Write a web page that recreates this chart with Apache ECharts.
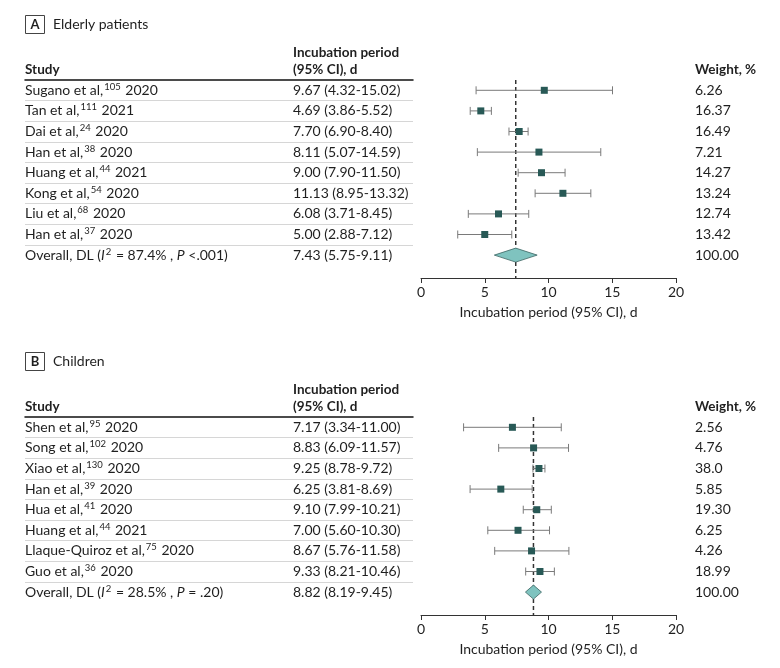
<!DOCTYPE html>
<html><head><meta charset="utf-8">
<script src="https://cdn.jsdelivr.net/npm/echarts@6/dist/echarts.min.js"></script>
<style>html,body{margin:0;padding:0;background:#fff}#c{width:780px;height:668px}</style>
</head><body><div id="c"></div>
<script>
// ---------- Panel A: Elderly patients ----------
const authorsA = ['Sugano et al','Tan et al','Dai et al','Han et al','Huang et al','Kong et al','Liu et al','Han et al'];
const refsA = ['105','111','24','38','44','54','68','37'];
const yearsA = ['2020','2021','2020','2020','2021','2020','2020','2020'];
const ciTextA = ['9.67 (4.32-15.02)','4.69 (3.86-5.52)','7.70 (6.90-8.40)','8.11 (5.07-14.59)','9.00 (7.90-11.50)','11.13 (8.95-13.32)','6.08 (3.71-8.45)','5.00 (2.88-7.12)','7.43 (5.75-9.11)'];
const weightsA = ['6.26','16.37','16.49','7.21','14.27','13.24','12.74','13.42','100.00'];
// plotted positions as drawn in the figure
const estA  = [9.67, 4.69, 7.70, 9.25, 9.45, 11.13, 6.08, 5.00];
const lowA  = [4.32, 3.86, 6.90, 4.42, 7.62, 8.95, 3.71, 2.88];
const highA = [15.02, 5.52, 8.40, 14.10, 11.30, 13.32, 8.45, 7.12];
const overallA = [7.43, 5.75, 9.11];      // estimate, low, high
const hetA = ['87.4%', '<.001'];

// ---------- Panel B: Children ----------
const authorsB = ['Shen et al','Song et al','Xiao et al','Han et al','Hua et al','Huang et al','Llaque-Quiroz et al','Guo et al'];
const refsB = ['95','102','130','39','41','44','75','36'];
const yearsB = ['2020','2020','2020','2020','2020','2021','2020','2020'];
const ciTextB = ['7.17 (3.34-11.00)','8.83 (6.09-11.57)','9.25 (8.78-9.72)','6.25 (3.81-8.69)','9.10 (7.99-10.21)','7.00 (5.60-10.30)','8.67 (5.76-11.58)','9.33 (8.21-10.46)','8.82 (8.19-9.45)'];
const weightsB = ['2.56','4.76','38.0','5.85','19.30','6.25','4.26','18.99','100.00'];
const estB  = [7.17, 8.83, 9.25, 6.26, 9.08, 7.61, 8.67, 9.33];
const lowB  = [3.34, 6.09, 8.78, 3.85, 8.02, 5.24, 5.78, 8.21];
const highB = [11.00, 11.57, 9.72, 8.72, 10.22, 10.08, 11.60, 10.46];
const overallB = [8.82, 8.19, 9.45];
const hetB = ['28.5%', '= .20'];

const xTicks = {min: 0, max: 20, interval: 5};
const axisTitle = 'Incubation period (95% CI), d';

// ---------- styling ----------
const FONT = 'Lato';
const FS = 14;
const TXT = '#1f1f1f';
const MARK = '#285956';
const CI = '#7a7a7a';
const DIAMOND = '#7fc3bf';
const ROW = 20.6;
const richStyles = {
  sup: {fontSize: 9.5, fontFamily: FONT, color: TXT, padding: [0, 1, 7, 1]},
  i: {fontSize: FS, fontFamily: FONT, color: TXT, fontStyle: 'italic'}
};

function studyLabels(authors, refs, years, het) {
  const out = authors.map((a, k) => a + ',{sup|' + refs[k] + '} ' + years[k]);
  out.push('Overall, DL ({i|I}{sup|2} = ' + het[0] + ' , {i|P} ' + het[1] + ')');
  return out;
}

function panel(idx, top, labels, ciText, weights, est, low, high, overall) {
  const tIdx = idx * 2, pIdx = idx * 2 + 1;
  const yBase = idx * 4;
  const n = labels.length;
  const plotH = 198;
  const yMax = -0.5 + plotH / ROW;
  const grids = [
    {left: 25, top: top, width: 388, height: n * ROW},
    {left: 421, top: top, width: 255, height: plotH}
  ];
  const xAxes = [
    {gridIndex: tIdx, type: 'value', position: 'top', min: 0, max: 1,
     axisLine: {show: true, onZero: false, lineStyle: {color: '#111', width: 1.5}},
     axisTick: {show: false}, axisLabel: {show: false}, splitLine: {show: false}},
    {gridIndex: pIdx, type: 'value', position: 'bottom', min: xTicks.min, max: xTicks.max, interval: xTicks.interval,
     axisLine: {show: true, onZero: false, lineStyle: {color: '#333', width: 1}},
     axisTick: {show: true, length: 5, lineStyle: {color: '#333'}},
     axisLabel: {fontSize: FS, fontFamily: FONT, color: TXT, margin: 7},
     splitLine: {show: false},
     name: axisTitle, nameLocation: 'middle', nameGap: 27,
     nameTextStyle: {fontSize: FS, fontFamily: FONT, color: TXT}}
  ];
  const lbl = () => ({interval: 0, fontSize: FS, fontFamily: FONT, color: TXT,
      align: 'left', margin: 0, rich: richStyles});
  const yAxes = [
    {gridIndex: tIdx, type: 'category', data: labels, inverse: true, position: 'left',
     axisLine: {show: false}, axisTick: {show: false}, axisLabel: lbl(),
     splitLine: {show: true, interval: 0, showMinLine: false, showMaxLine: false,
                 lineStyle: {color: '#d6d6d6', width: 1}}},
    {gridIndex: tIdx, type: 'category', data: ciText, inverse: true, position: 'left', offset: -268,
     axisLine: {show: false}, axisTick: {show: false}, axisLabel: lbl(), splitLine: {show: false}},
    {gridIndex: tIdx, type: 'category', data: weights, inverse: true, position: 'right', offset: 282,
     axisLine: {show: false}, axisTick: {show: false}, axisLabel: lbl(), splitLine: {show: false}},
    {gridIndex: pIdx, type: 'value', inverse: true, min: -0.5, max: yMax, show: false}
  ];
  const rows = est.map((e, k) => [e, low[k], high[k], k]);
  const series = [
    {type: 'line', xAxisIndex: pIdx, yAxisIndex: yBase + 3, z: 1, silent: true,
     symbol: 'none', data: [[overall[0], -0.5], [overall[0], yMax]],
     lineStyle: {color: '#333', width: 1.5, type: [4, 3]}},
    {type: 'custom', xAxisIndex: pIdx, yAxisIndex: yBase + 3, z: 3, silent: true, clip: false,
     data: rows,
     renderItem: function (params, api) {
       const y = api.value(3);
       const pE = api.coord([api.value(0), y]);
       const pL = api.coord([api.value(1), y]);
       const pH = api.coord([api.value(2), y]);
       const ls = {stroke: CI, lineWidth: 1};
       return {type: 'group', children: [
         {type: 'line', shape: {x1: pL[0], y1: pL[1], x2: pH[0], y2: pH[1]}, style: ls},
         {type: 'line', shape: {x1: pL[0], y1: pL[1] - 4, x2: pL[0], y2: pL[1] + 4}, style: ls},
         {type: 'line', shape: {x1: pH[0], y1: pH[1] - 4, x2: pH[0], y2: pH[1] + 4}, style: ls},
         {type: 'rect', shape: {x: pE[0] - 3.5, y: pE[1] - 3.5, width: 7, height: 7}, style: {fill: MARK}}
       ]};
     }},
    {type: 'custom', xAxisIndex: pIdx, yAxisIndex: yBase + 3, z: 4, silent: true, clip: false,
     data: [[overall[0], overall[1], overall[2], n - 1]],
     renderItem: function (params, api) {
       const y = api.value(3);
       const pE = api.coord([api.value(0), y]);
       const pL = api.coord([api.value(1), y]);
       const pH = api.coord([api.value(2), y]);
       return {type: 'polygon', shape: {points: [[pL[0], pL[1]], [pE[0], pE[1] - 7], [pH[0], pH[1]], [pE[0], pE[1] + 7]]},
               style: {fill: DIAMOND, stroke: '#3b6462', lineWidth: 0.8}};
     }}
  ];
  return {grids, xAxes, yAxes, series};
}

const topA = 80, topB = 417;
const pA = panel(0, topA, studyLabels(authorsA, refsA, yearsA, hetA), ciTextA, weightsA, estA, lowA, highA, overallA);
const pB = panel(1, topB, studyLabels(authorsB, refsB, yearsB, hetB), ciTextB, weightsB, estB, lowB, highB, overallB);

function headers(letter, title, top) {
  const o = top - 80;
  const bold = (t, x, y) => ({type: 'text', x: x, y: y + o, silent: true,
    style: {text: t, fontSize: 13.5, fontWeight: 'bold', fontFamily: FONT, fill: TXT, align: 'left', verticalAlign: 'middle'}});
  return [
    {type: 'rect', silent: true, shape: {x: 25.5, y: 15.5 + o, width: 19, height: 18}, style: {fill: 'none', stroke: '#444', lineWidth: 1}},
    {type: 'text', x: 35, y: 25 + o, silent: true, style: {text: letter, fontSize: 13, fontWeight: 'bold', fontFamily: FONT, fill: TXT, align: 'center', verticalAlign: 'middle'}},
    {type: 'text', x: 53, y: 24 + o, silent: true, style: {text: title, fontSize: 14, fontFamily: FONT, fill: TXT, align: 'left', verticalAlign: 'middle'}},
    bold('Study', 25, 70),
    bold('Incubation period', 293, 53),
    bold('(95% CI), d', 293, 69.5),
    bold('Weight, %', 695, 70)
  ];
}

const chart = echarts.init(document.getElementById('c'), null, {renderer: 'canvas'});
chart.setOption({
  animation: false,
  backgroundColor: '#fff',
  grid: pA.grids.concat(pB.grids),
  xAxis: pA.xAxes.concat(pB.xAxes),
  yAxis: pA.yAxes.concat(pB.yAxes),
  series: pA.series.concat(pB.series),
  graphic: headers('A', 'Elderly patients', topA).concat(headers('B', 'Children', topB))
});
</script></body></html>
